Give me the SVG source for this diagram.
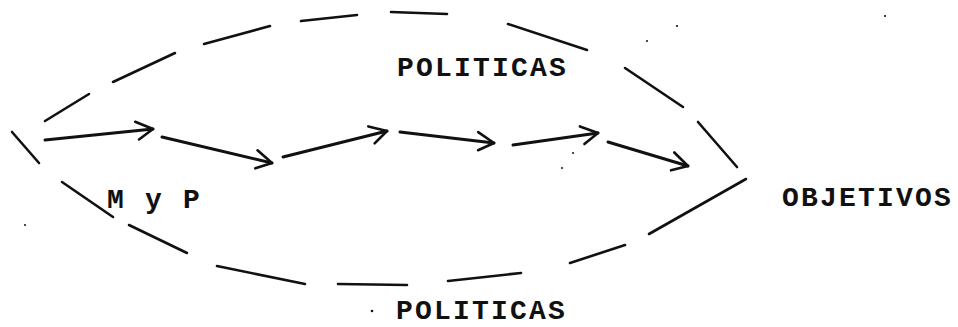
<svg xmlns="http://www.w3.org/2000/svg" width="958" height="327" viewBox="0 0 958 327">
<style>
.lbl{font-family:"Liberation Mono","Courier New",monospace;font-size:28px;font-weight:bold;letter-spacing:2.2px;fill:#111}
.dash{stroke:#111;stroke-width:2.6;stroke-linecap:round;fill:none}
.arr{stroke:#111;stroke-width:3;stroke-linecap:round;fill:none;marker-end:url(#head)}
.speck{fill:#111}
</style>
<defs>
<marker id="head" markerUnits="userSpaceOnUse" viewBox="-20 -11 24 22" refX="0" refY="0" markerWidth="24" markerHeight="22" orient="auto">
<path d="M-17,-9 L0,0 L-15,9" fill="none" stroke="#111" stroke-width="2.6" stroke-linecap="round" stroke-linejoin="round"/>
</marker>
</defs>
<rect width="958" height="327" fill="#fff"/>
<g id="boundary">
<line class="dash" x1="12" y1="132" x2="39" y2="163"/>
<line class="dash" x1="45" y1="121" x2="89" y2="94"/>
<line class="dash" x1="113" y1="82" x2="175" y2="53"/>
<line class="dash" x1="204" y1="44" x2="270" y2="26"/>
<line class="dash" x1="301" y1="21" x2="357" y2="15"/>
<line class="dash" x1="391" y1="12" x2="447" y2="14"/>
<line class="dash" x1="508" y1="24" x2="587" y2="50"/>
<line class="dash" x1="625" y1="68" x2="683" y2="107"/>
<line class="dash" x1="698" y1="122" x2="737" y2="167"/>
<line class="dash" x1="62" y1="182" x2="113" y2="217"/>
<line class="dash" x1="129" y1="225" x2="187" y2="253"/>
<line class="dash" x1="217" y1="266" x2="305" y2="284"/>
<line class="dash" x1="338" y1="284" x2="407" y2="285"/>
<line class="dash" x1="448" y1="281" x2="521" y2="273"/>
<line class="dash" x1="570" y1="263" x2="625" y2="245"/>
<line class="dash" x1="649" y1="234" x2="746" y2="179"/>
</g>
<g id="connectors">
<line class="arr" x1="45" y1="140" x2="153" y2="129"/>
<line class="arr" x1="162" y1="137" x2="272" y2="163"/>
<line class="arr" x1="283" y1="157" x2="387" y2="131"/>
<line class="arr" x1="400" y1="132" x2="494" y2="143"/>
<line class="arr" x1="513" y1="145" x2="598" y2="133"/>
<line class="arr" x1="608" y1="142" x2="688" y2="166"/>
</g>
<g id="politicas-top"><text class="lbl" x="397" y="76">POLITICAS</text></g>
<g id="myp"><text class="lbl" x="107" y="208">M y P</text></g>
<g id="objetivos"><text class="lbl" x="782" y="206">OBJETIVOS</text></g>
<g id="politicas-bottom"><text class="lbl" x="396" y="319">POLITICAS</text></g>
<g id="specks">
<circle class="speck" cx="372" cy="311" r="1.3"/>
<circle class="speck" cx="677" cy="26" r="1.1"/>
<circle class="speck" cx="647" cy="41" r="1"/>
<circle class="speck" cx="885" cy="16" r="1.1"/>
<circle class="speck" cx="25" cy="225" r="1"/>
<circle class="speck" cx="573" cy="153" r="1"/>
<circle class="speck" cx="562" cy="168" r="1"/>
</g>
</svg>
